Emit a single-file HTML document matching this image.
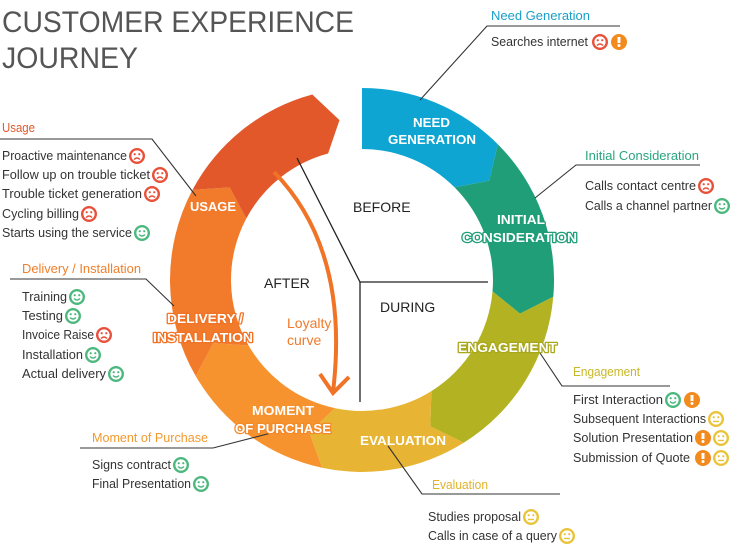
<!DOCTYPE html>
<html><head><meta charset="utf-8"><style>
html,body{margin:0;padding:0;background:#fff;width:736px;height:547px;overflow:hidden}
svg text{font-family:"Liberation Sans",sans-serif}
</style></head><body>
<svg id="s" width="736" height="547" viewBox="0 0 736 547" xmlns="http://www.w3.org/2000/svg">
<text x="2" y="32" font-size="30" fill="#555" textLength="352" lengthAdjust="spacingAndGlyphs">CUSTOMER EXPERIENCE</text>
<text x="2" y="68" font-size="30" fill="#555" textLength="136" lengthAdjust="spacingAndGlyphs">JOURNEY</text>
<g id="ring"></g>
<g stroke="#222" stroke-width="1.3" fill="none">
<polyline points="297,158 360,282 488,282"/>
<line x1="360" y1="282" x2="360" y2="402"/>
</g>
<g stroke="#333" stroke-width="1.1" fill="none">
<polyline points="420,100 487,26 620,26"/>
<polyline points="535,198 576,165 700,165"/>
<polyline points="0,139 152,139 196,196"/>
<polyline points="10,279 146,279 174,306"/>
<polyline points="80,448 213,448 275,432"/>
<polyline points="388,446 422,494 560,494"/>
<polyline points="538,350 562,386 670,386"/>
</g>
<path d="M274,172 Q350,250 333,392" stroke="#f07326" stroke-width="4" fill="none"/>
<polyline points="320,374 333,393 349,377" stroke="#f07326" stroke-width="4" fill="none"/>
<g font-size="14" fill="#222">
<text x="353" y="212">BEFORE</text>
<text x="264" y="288">AFTER</text>
<text x="380" y="312">DURING</text>
</g>
<text x="287" y="328" font-size="14" fill="#f07a2a">Loyalty</text>
<text x="287" y="345" font-size="14" fill="#f07a2a">curve</text>
<g font-size="13" font-weight="bold" fill="#fff" stroke-width="2.5" paint-order="stroke" stroke-linejoin="round">
<text x="413" y="127" textLength="37" lengthAdjust="spacingAndGlyphs">NEED</text><text x="388" y="144" textLength="88" lengthAdjust="spacingAndGlyphs">GENERATION</text>
<text x="497" y="224" textLength="48" lengthAdjust="spacingAndGlyphs" stroke="#1f9e78">INITIAL</text><text x="462" y="242" textLength="115" lengthAdjust="spacingAndGlyphs" stroke="#1f9e78">CONSIDERATION</text>
<text x="458" y="352" textLength="99" lengthAdjust="spacingAndGlyphs" stroke="#a9a81c">ENGAGEMENT</text>
<text x="360" y="445" textLength="86" lengthAdjust="spacingAndGlyphs">EVALUATION</text>
<text x="252" y="415" textLength="62" lengthAdjust="spacingAndGlyphs">MOMENT</text><text x="235" y="433" textLength="96" lengthAdjust="spacingAndGlyphs" stroke="#f28a2b">OF PURCHASE</text>
<text x="167" y="323" textLength="76" lengthAdjust="spacingAndGlyphs" stroke="#f07326">DELIVERY /</text><text x="153" y="342" textLength="100" lengthAdjust="spacingAndGlyphs" stroke="#f07326">INSTALLATION</text>
<text x="190" y="211" textLength="46" lengthAdjust="spacingAndGlyphs">USAGE</text>
</g>
<g font-size="12.5">
<text x="491" y="20" fill="#1aa0c8" textLength="99" lengthAdjust="spacingAndGlyphs">Need Generation</text>
<text x="585" y="160" fill="#2aa57e" textLength="114" lengthAdjust="spacingAndGlyphs">Initial Consideration</text>
<text x="2" y="132" fill="#e0572a" textLength="33" lengthAdjust="spacingAndGlyphs">Usage</text>
<text x="22" y="273" fill="#f07f2a" textLength="119" lengthAdjust="spacingAndGlyphs">Delivery / Installation</text>
<text x="92" y="442" fill="#f39a2f" textLength="116" lengthAdjust="spacingAndGlyphs">Moment of Purchase</text>
<text x="432" y="489" fill="#e2b22b" textLength="56" lengthAdjust="spacingAndGlyphs">Evaluation</text>
<text x="573" y="376" fill="#c8b82a" textLength="67" lengthAdjust="spacingAndGlyphs">Engagement</text>
</g>
<g font-size="13" fill="#333">
<text x="491" y="46" textLength="97" lengthAdjust="spacingAndGlyphs">Searches internet</text>
<text x="585" y="190" textLength="111" lengthAdjust="spacingAndGlyphs">Calls contact centre</text>
<text x="585" y="210" textLength="127" lengthAdjust="spacingAndGlyphs">Calls a channel partner</text>
<text x="2" y="160" textLength="125" lengthAdjust="spacingAndGlyphs">Proactive maintenance</text>
<text x="2" y="179" textLength="148" lengthAdjust="spacingAndGlyphs">Follow up on trouble ticket</text>
<text x="2" y="198" textLength="140" lengthAdjust="spacingAndGlyphs">Trouble ticket generation</text>
<text x="2" y="218" textLength="77" lengthAdjust="spacingAndGlyphs">Cycling billing</text>
<text x="2" y="237" textLength="130" lengthAdjust="spacingAndGlyphs">Starts using the service</text>
<text x="22" y="301" textLength="45" lengthAdjust="spacingAndGlyphs">Training</text>
<text x="22" y="320" textLength="41" lengthAdjust="spacingAndGlyphs">Testing</text>
<text x="22" y="339" textLength="72" lengthAdjust="spacingAndGlyphs">Invoice Raise</text>
<text x="22" y="359" textLength="61" lengthAdjust="spacingAndGlyphs">Installation</text>
<text x="22" y="378" textLength="84" lengthAdjust="spacingAndGlyphs">Actual delivery</text>
<text x="92" y="469" textLength="79" lengthAdjust="spacingAndGlyphs">Signs contract</text>
<text x="92" y="488" textLength="99" lengthAdjust="spacingAndGlyphs">Final Presentation</text>
<text x="428" y="521" textLength="93" lengthAdjust="spacingAndGlyphs">Studies proposal</text>
<text x="428" y="540" textLength="129" lengthAdjust="spacingAndGlyphs">Calls in case of a query</text>
<text x="573" y="404" textLength="90" lengthAdjust="spacingAndGlyphs">First Interaction</text>
<text x="573" y="423" textLength="133" lengthAdjust="spacingAndGlyphs">Subsequent Interactions</text>
<text x="573" y="442" textLength="120" lengthAdjust="spacingAndGlyphs">Solution Presentation</text>
<text x="573" y="462" textLength="117" lengthAdjust="spacingAndGlyphs">Submission of Quote</text>
</g>
<g id="icons"></g>
</svg>
<script>
var cx=362,cy=280,R=192,r=131,m=161.5,d=7;
function p(a,rad){a=a*Math.PI/180;return (cx+rad*Math.sin(a)).toFixed(1)+","+(cy-rad*Math.cos(a)).toFixed(1);}
var segs=[[0,45,"#0ea5d3",0],[45,95,"#1f9e78",1],[95,148,"#b3b223",1],[148,192,"#e8b433",1],[192,240,"#f7932e",1],[240,298,"#f17b2b",1],[298,345,"#e2582a",1]];
var g=document.getElementById("ring"),h="";
segs.forEach(function(s){
 var a0=s[0],a1=s[1];
 var dd="M"+p(a0,R)+" A"+R+","+R+" 0 0 1 "+p(a1,R)+" L"+p(a1+d,m)+" L"+p(a1,r)+" A"+r+","+r+" 0 0 0 "+p(a0,r);
 if(s[3])dd+=" L"+p(a0+d,m);
 dd+="Z";
 h+='<path d="'+dd+'" fill="'+s[2]+'"/>';
});
g.innerHTML=h;
var C={r:"#e8503a",g:"#4cb87e",y:"#e9c43a",o:"#f28a1e"};
var icons=[[600,42,"s","r"],[619,42,"e","o"],[706,186,"s","r"],[722,206,"h","g"],
[137,156,"s","r"],[160,175,"s","r"],[152,194,"s","r"],[89,214,"s","r"],[142,233,"h","g"],
[77,297,"h","g"],[73,316,"h","g"],[104,335,"s","r"],[93,355,"h","g"],[116,374,"h","g"],
[181,465,"h","g"],[201,484,"h","g"],[531,517,"n","y"],[567,536,"n","y"],
[673,400,"h","g"],[692,400,"e","o"],[716,419,"n","y"],[703,438,"e","o"],[721,438,"n","y"],[703,458,"e","o"],[721,458,"n","y"]];
var ih="";
icons.forEach(function(i){
 var x=i[0],y=i[1],c=C[i[3]];
 if(i[2]=="e"){ih+='<circle cx="'+x+'" cy="'+y+'" r="8" fill="'+c+'"/><rect x="'+(x-1.5)+'" y="'+(y-5)+'" width="3" height="6" fill="#fff"/><circle cx="'+x+'" cy="'+(y+3.5)+'" r="1.5" fill="#fff"/>';return;}
 ih+='<circle cx="'+x+'" cy="'+y+'" r="6.8" fill="#fff" stroke="'+c+'" stroke-width="2.4"/><circle cx="'+(x-2.3)+'" cy="'+(y-1.8)+'" r="1.1" fill="'+c+'"/><circle cx="'+(x+2.3)+'" cy="'+(y-1.8)+'" r="1.1" fill="'+c+'"/>';
 var mth=i[2]=="h"?"M"+(x-3)+","+(y+1.5)+" Q"+x+","+(y+4.5)+" "+(x+3)+","+(y+1.5):i[2]=="s"?"M"+(x-3)+","+(y+3.5)+" Q"+x+","+(y+0.5)+" "+(x+3)+","+(y+3.5):"M"+(x-3)+","+(y+2.5)+" L"+(x+3)+","+(y+2.5);
 ih+='<path d="'+mth+'" stroke="'+c+'" stroke-width="1.4" fill="none"/>';
});
document.getElementById("icons").innerHTML=ih;
</script>
</body></html>
